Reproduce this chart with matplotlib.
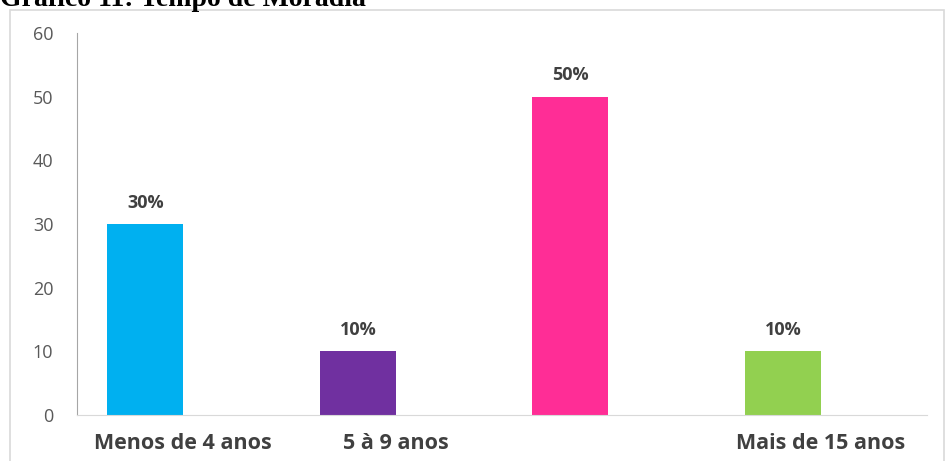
import matplotlib
matplotlib.use("Agg")
import matplotlib.pyplot as plt
from matplotlib.patches import Rectangle
import numpy as np

categories = ["Menos de 4 anos", "5 à 9 anos", "", "Mais de 15 anos"]
values = [30, 10, 50, 10]
value_labels = ["30%", "10%", "50%", "10%"]
colors = ["#00B0F0", "#7030A0", "#FF2D96", "#92D050"]
yticks = [0, 10, 20, 30, 40, 50, 60]
title = "Gráfico 11: Tempo de Moradia"

W, H = 947, 461
fig = plt.figure(figsize=(W / 100, H / 100), dpi=100)
fig.patch.set_facecolor("white")

# outer light border
fig.add_artist(Rectangle((10 / W, -0.05), (944 - 10) / W, 1 - 10 / H + 0.05,
                         transform=fig.transFigure, fill=False,
                         edgecolor="#D9D9D9", linewidth=1.2))

ax = fig.add_axes([77 / W, 1 - 415 / H, (927 - 77) / W, (415 - 33) / H])
x = np.arange(len(categories))
bw = 0.357
ax.bar(x - bw / 2, values, width=bw, color=colors)
for xi, v, lab in zip(x, values, value_labels):
    ax.annotate(lab, (xi - bw / 2, v), xytext=(0, 9), textcoords="offset points",
                ha="center", va="bottom", fontsize=13, fontweight="bold",
                color="#404040", family="Open Sans")

ax.set_xlim(-0.5, 3.5)
ax.set_ylim(0, 60)
ax.set_yticks(yticks)
ax.set_xticks(x)
ax.set_xticklabels(categories, fontsize=15.5, fontweight="bold", color="#404040",
                   family="Open Sans")
for t in ax.get_yticklabels():
    t.set_fontsize(13)
    t.set_color("#595959")
    t.set_family("Open Sans")
ax.tick_params(axis="both", length=0)
ax.tick_params(axis="y", pad=17)
ax.tick_params(axis="x", pad=13)
for s in ["top", "right"]:
    ax.spines[s].set_visible(False)
ax.spines["left"].set_color("#A6A6A6")
ax.spines["bottom"].set_color("#D9D9D9")

fig.text(0, 1 - 6 / H, title, ha="left", va="baseline", fontsize=20,
         fontweight="bold", family="Liberation Serif", color="black")

fig.savefig("out.png", dpi=100)
